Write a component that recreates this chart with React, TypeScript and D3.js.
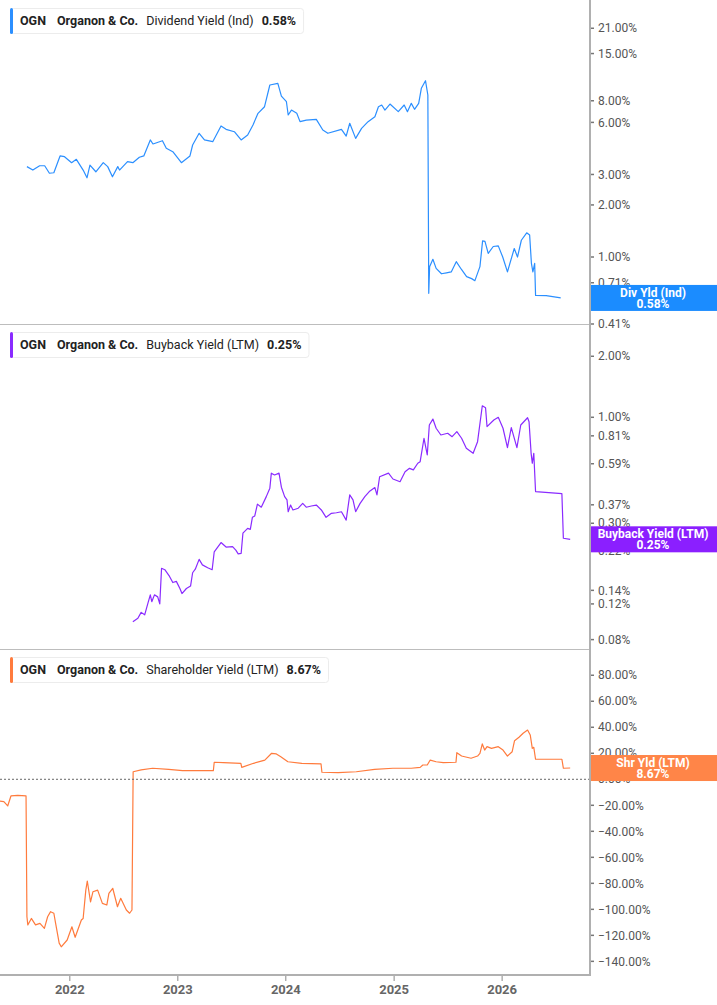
import React, { useEffect, useRef } from "react";
import * as d3 from "d3";

// Dividend Yield (Ind), %
const divDates = [
  "2021-08-09", "2021-08-29", "2021-09-21", "2021-10-08", "2021-10-24", "2021-11-08", "2021-11-29", "2021-12-14",
  "2022-01-07", "2022-01-23", "2022-02-15", "2022-02-28", "2022-03-10", "2022-03-30", "2022-04-24", "2022-05-09",
  "2022-05-25", "2022-06-12", "2022-06-18", "2022-07-15", "2022-08-02", "2022-08-24", "2022-09-08", "2022-09-30",
  "2022-10-09", "2022-11-10", "2022-11-23", "2022-12-15", "2023-01-13", "2023-02-11", "2023-02-20", "2023-03-14",
  "2023-04-01", "2023-04-29", "2023-05-27", "2023-06-13", "2023-07-11", "2023-08-03", "2023-08-25", "2023-09-12",
  "2023-09-29", "2023-10-21", "2023-11-08", "2023-12-05", "2023-12-17", "2024-01-03", "2024-01-09", "2024-01-20",
  "2024-02-07", "2024-02-18", "2024-03-10", "2024-04-13", "2024-05-05", "2024-05-22", "2024-07-07", "2024-07-23",
  "2024-08-04", "2024-08-24", "2024-09-13", "2024-10-05", "2024-10-28", "2024-11-09", "2024-11-20", "2024-12-01",
  "2024-12-18", "2025-01-15", "2025-02-04", "2025-02-15", "2025-02-28", "2025-03-11", "2025-03-25", "2025-04-03",
  "2025-04-17", "2025-04-25", "2025-04-28", "2025-05-01", "2025-05-12", "2025-05-23", "2025-06-10", "2025-06-27",
  "2025-07-13", "2025-07-30", "2025-08-16", "2025-09-03", "2025-09-20", "2025-10-01", "2025-10-18", "2025-10-27",
  "2025-11-04", "2025-11-15", "2025-12-02", "2025-12-19", "2026-01-03", "2026-01-19", "2026-02-11", "2026-02-22",
  "2026-03-07", "2026-03-25", "2026-04-04", "2026-04-10", "2026-04-15", "2026-04-21", "2026-04-24", "2026-05-30",
  "2026-07-18",
];
const divValues = [
  3.33, 3.18, 3.37, 3.37, 3.05, 3.07, 3.84, 3.8,
  3.51, 3.67, 3.18, 2.87, 3.4, 3.11, 3.51, 3.33,
  2.91, 3.33, 3.18, 3.56, 3.51, 3.77, 3.84, 4.75,
  4.5, 4.7, 4.25, 4.06, 3.51, 3.84, 4.44, 5.19,
  4.75, 4.64, 5.72, 5.47, 5.3, 4.75, 5.07, 5.8,
  6.77, 7.39, 9.87, 10.09, 8.52, 7.9, 6.62, 7.07,
  6.77, 6.06, 6.19, 6.25, 5.42, 5.19, 5.47, 5.0,
  5.93, 4.85, 5.54, 6.06, 6.47, 7.39, 7.56, 7.07,
  7.66, 6.92, 7.56, 6.92, 7.73, 7.14, 7.73, 9.44,
  10.45, 8.64, 0.617, 0.879, 0.97, 0.86, 0.8, 0.81,
  0.82, 0.94, 0.85, 0.77, 0.75, 0.73, 0.88, 1.24,
  1.23, 1.05, 1.15, 1.16, 1.0, 0.82, 1.12, 1.0,
  1.25, 1.38, 1.34, 0.92, 0.82, 0.92, 0.6, 0.598,
  0.58,
];

// Buyback Yield (LTM), %
const bbDates = [
  "2022-08-02", "2022-08-19", "2022-08-30", "2022-09-11", "2022-09-22", "2022-09-30", "2022-10-05", "2022-10-14",
  "2022-10-25", "2022-11-01", "2022-11-07", "2022-11-18", "2022-12-04", "2022-12-15", "2022-12-27", "2023-01-08",
  "2023-01-15", "2023-01-30", "2023-02-13", "2023-02-20", "2023-03-01", "2023-03-14", "2023-03-25", "2023-04-12",
  "2023-04-27", "2023-05-04", "2023-05-27", "2023-06-13", "2023-07-05", "2023-07-16", "2023-07-24", "2023-08-03",
  "2023-08-09", "2023-08-25", "2023-09-03", "2023-09-10", "2023-09-18", "2023-09-27", "2023-10-10", "2023-10-27",
  "2023-11-08", "2023-11-13", "2023-11-24", "2023-12-09", "2023-12-17", "2023-12-28", "2024-01-05", "2024-01-09",
  "2024-01-17", "2024-01-25", "2024-02-12", "2024-02-27", "2024-03-10", "2024-03-27", "2024-04-13", "2024-04-30",
  "2024-05-16", "2024-06-03", "2024-06-20", "2024-07-07", "2024-07-23", "2024-08-04", "2024-08-15", "2024-08-24",
  "2024-09-08", "2024-09-24", "2024-10-09", "2024-10-28", "2024-11-04", "2024-11-13", "2024-12-13", "2024-12-28",
  "2025-01-21", "2025-02-07", "2025-02-22", "2025-03-07", "2025-03-22", "2025-03-30", "2025-04-12", "2025-04-23",
  "2025-04-30", "2025-05-12", "2025-05-23", "2025-06-08", "2025-07-01", "2025-07-16", "2025-08-01", "2025-08-17",
  "2025-09-02", "2025-09-25", "2025-10-10", "2025-10-26", "2025-11-06", "2025-11-11", "2025-12-04", "2025-12-19",
  "2026-01-04", "2026-01-19", "2026-02-01", "2026-02-20", "2026-03-05", "2026-03-28", "2026-04-02", "2026-04-09",
  "2026-04-13", "2026-04-18", "2026-04-24", "2026-07-22", "2026-07-27", "2026-08-19",
];
const bbValues = [
  0.098, 0.102, 0.109, 0.106, 0.121, 0.133, 0.123, 0.133,
  0.13, 0.12, 0.18, 0.177, 0.164, 0.153, 0.155, 0.143,
  0.135, 0.143, 0.147, 0.171, 0.178, 0.199, 0.187, 0.181,
  0.177, 0.217, 0.241, 0.229, 0.23, 0.221, 0.212, 0.213,
  0.268, 0.283, 0.28, 0.321, 0.326, 0.373, 0.36, 0.406,
  0.447, 0.53, 0.519, 0.53, 0.452, 0.406, 0.391, 0.342,
  0.369, 0.349, 0.356, 0.376, 0.36, 0.365, 0.369, 0.349,
  0.321, 0.336, 0.338, 0.342, 0.311, 0.414, 0.391, 0.342,
  0.376, 0.406, 0.43, 0.45, 0.414, 0.509, 0.53, 0.496,
  0.481, 0.539, 0.56, 0.55, 0.593, 0.604, 0.788, 0.652,
  0.916, 0.98, 0.883, 0.818, 0.834, 0.802, 0.849, 0.788,
  0.703, 0.664, 0.758, 1.14, 1.115, 0.9, 0.97, 1.0,
  0.883, 0.708, 0.889, 0.708, 0.916, 0.995, 0.951, 0.664,
  0.593, 0.664, 0.43, 0.42, 0.253, 0.25,
];

// Shareholder Yield (LTM), %
const shrDates = [
  "2021-05-01", "2021-05-23", "2021-06-05", "2021-06-16", "2021-07-09", "2021-08-06", "2021-08-09", "2021-08-12",
  "2021-08-24", "2021-09-07", "2021-09-22", "2021-10-07", "2021-10-18", "2021-10-28", "2021-11-08", "2021-11-14",
  "2021-11-26", "2021-12-03", "2021-12-23", "2022-01-08", "2022-01-19", "2022-02-09", "2022-02-15", "2022-02-24",
  "2022-03-01", "2022-03-12", "2022-03-20", "2022-04-05", "2022-04-21", "2022-05-06", "2022-05-13", "2022-05-26",
  "2022-06-11", "2022-06-22", "2022-07-11", "2022-07-22", "2022-07-30", "2022-08-03", "2022-08-30", "2022-10-08",
  "2022-12-01", "2023-01-17", "2023-03-18", "2023-05-01", "2023-05-04", "2023-06-04", "2023-08-02", "2023-08-05",
  "2023-09-14", "2023-10-22", "2023-11-14", "2023-11-30", "2023-12-15", "2024-01-08", "2024-02-24", "2024-04-29",
  "2024-05-02", "2024-06-26", "2024-08-26", "2024-10-27", "2024-12-28", "2025-02-28", "2025-03-30", "2025-04-08",
  "2025-04-23", "2025-05-03", "2025-05-23", "2025-06-16", "2025-07-29", "2025-08-01", "2025-08-17", "2025-09-18",
  "2025-10-10", "2025-10-18", "2025-10-26", "2025-11-03", "2025-11-11", "2025-11-26", "2025-12-19", "2026-01-04",
  "2026-01-19", "2026-02-04", "2026-02-12", "2026-02-27", "2026-03-13", "2026-03-28", "2026-04-06", "2026-04-13",
  "2026-04-18", "2026-04-24", "2026-07-22", "2026-07-27", "2026-08-19",
];
const shrValues = [
  -16.5, -17.2, -20.5, -12.8, -12.3, -12.8, -105.7, -112,
  -107, -112, -110.8, -114.6, -105.7, -101.8, -103, -110.8,
  -126, -128.8, -123.6, -113.4, -121.5, -108.2, -107, -85.2,
  -78.2, -94.2, -86.5, -85.2, -95.4, -96.7, -87.7, -83.8,
  -98, -91.5, -100.5, -103, -100.5, 5.8, 7.2, 8.5,
  7.7, 6.6, 6.6, 6.6, 13.1, 12.8, 12.3, 9.2,
  12.3, 14.8, 20, 19.5, 17.4, 13.5, 12.3, 11.8,
  5.4, 5.1, 5.8, 7.7, 8.5, 8.5, 9.2, 11,
  11, 14.8, 13.5, 12.8, 13.1, 20.5, 17.9, 16.2,
  17.9, 20, 27.2, 22.5, 25.1, 23.8, 25.1, 22.5,
  17.9, 21.2, 29.7, 32.3, 35.4, 37.9, 34.1, 23.8,
  24.6, 15.4, 15.4, 8.5, 8.67,
];

const divTicks = [21, 15, 8, 6, 3, 2, 1, 0.71, 0.41];
const bbTicks = [2, 1, 0.81, 0.59, 0.37, 0.3, 0.22, 0.14, 0.12, 0.08];
const shrTicks = [80, 60, 40, 20, 0, -20, -40, -60, -80, -100, -120, -140];
const yearLabels = ["2022", "2023", "2024", "2025", "2026"];

const WIDTH = 717;
const HEIGHT = 1005;
const PLOT_RIGHT = 590;
const AXIS_Y = 975;
const FONT = "Roboto, 'Noto Sans', sans-serif";

const App: React.FC = () => {
  const ref = useRef<SVGSVGElement>(null);

  useEffect(() => {
    if (!ref.current) return;
    const svg = d3.select(ref.current).html("");
    const parse = d3.utcParse("%Y-%m-%d");

    const x = d3
      .scaleUtc()
      .domain([parse("2021-05-10")!, parse("2026-10-25")!])
      .range([0, PLOT_RIGHT]);

    const panels = [
      {
        id: "div",
        dates: divDates,
        values: divValues,
        color: "#2b8fff",
        badgeColor: "#1b8cff",
        y: d3.scaleLog().domain([0.41, 30.59]).range([324, 0]),
        ticks: divTicks,
        top: 0,
        bottom: 324,
        legend: ["Dividend Yield (Ind)", "0.58%"],
        badge: ["Div Yld (Ind)", "0.58%"],
      },
      {
        id: "bb",
        dates: bbDates,
        values: bbValues,
        color: "#8a2bff",
        badgeColor: "#8b1fff",
        y: d3.scaleLog().domain([0.0719, 2.886]).range([649, 324]),
        ticks: bbTicks,
        top: 324,
        bottom: 649,
        legend: ["Buyback Yield (LTM)", "0.25%"],
        badge: ["Buyback Yield (LTM)", "0.25%"],
      },
      {
        id: "shr",
        dates: shrDates,
        values: shrValues,
        color: "#ff7b3d",
        badgeColor: "#ff8548",
        y: d3.scaleLinear().domain([-150.5, 100.2]).range([975, 649]),
        ticks: shrTicks,
        top: 649,
        bottom: 975,
        legend: ["Shareholder Yield (LTM)", "8.67%"],
        badge: ["Shr Yld (LTM)", "8.67%"],
      },
    ];

    const fmt = d3.format(".2f");
    const defs = svg.append("defs");

    panels.forEach((p) => {
      defs
        .append("clipPath")
        .attr("id", `clip-${p.id}`)
        .append("rect")
        .attr("x", 0)
        .attr("y", p.top)
        .attr("width", PLOT_RIGHT)
        .attr("height", p.bottom - p.top);

      const pts = p.dates.map((d, i) => ({ date: parse(d)!, value: p.values[i] }));
      const line = d3
        .line<{ date: Date; value: number }>()
        .x((d) => x(d.date))
        .y((d) => (p.y as any)(d.value));

      svg
        .append("path")
        .datum(pts)
        .attr("clip-path", `url(#clip-${p.id})`)
        .attr("fill", "none")
        .attr("stroke", p.color)
        .attr("stroke-width", 1.2)
        .attr("stroke-linejoin", "round")
        .attr("d", line);
    });

    // zero line in shareholder panel
    const shrY = panels[2].y as d3.ScaleLinear<number, number>;
    svg
      .append("line")
      .attr("x1", 0)
      .attr("x2", PLOT_RIGHT)
      .attr("y1", shrY(0))
      .attr("y2", shrY(0))
      .attr("stroke", "#666")
      .attr("stroke-width", 1)
      .attr("stroke-dasharray", "2,2");

    // panel separators
    [324, 649].forEach((yy) => {
      svg
        .append("line")
        .attr("x1", 0)
        .attr("x2", PLOT_RIGHT)
        .attr("y1", yy + 0.5)
        .attr("y2", yy + 0.5)
        .attr("stroke", "#bdbdbd")
        .attr("stroke-width", 1);
    });

    // right axis line and bottom axis line
    svg
      .append("line")
      .attr("x1", PLOT_RIGHT)
      .attr("x2", PLOT_RIGHT)
      .attr("y1", 0)
      .attr("y2", AXIS_Y + 1)
      .attr("stroke", "#b0b0b0")
      .attr("stroke-width", 2);
    svg
      .append("line")
      .attr("x1", 0)
      .attr("x2", PLOT_RIGHT + 1)
      .attr("y1", AXIS_Y)
      .attr("y2", AXIS_Y)
      .attr("stroke", "#b0b0b0")
      .attr("stroke-width", 2);

    // y tick labels
    panels.forEach((p) => {
      const g = svg.append("g");
      p.ticks.forEach((t) => {
        const yy = (p.y as any)(t);
        g.append("line")
          .attr("x1", PLOT_RIGHT + 1)
          .attr("x2", PLOT_RIGHT + 4)
          .attr("y1", yy)
          .attr("y2", yy)
          .attr("stroke", "#777")
          .attr("stroke-width", 1.5);
        g.append("text")
          .attr("x", PLOT_RIGHT + 8)
          .attr("y", yy)
          .attr("dy", "0.35em")
          .attr("font-family", FONT)
          .attr("font-size", 12)
          .attr("fill", "#555")
          .text(`${fmt(t)}%`);
      });
    });

    // x axis
    yearLabels.forEach((yr) => {
      const xx = x(parse(`${yr}-01-01`)!);
      svg
        .append("line")
        .attr("x1", xx)
        .attr("x2", xx)
        .attr("y1", AXIS_Y + 1)
        .attr("y2", AXIS_Y + 6)
        .attr("stroke", "#888")
        .attr("stroke-width", 1);
      svg
        .append("text")
        .attr("x", xx)
        .attr("y", 989)
        .attr("dy", "0.35em")
        .attr("text-anchor", "middle")
        .attr("font-family", FONT)
        .attr("font-size", 13)
        .attr("font-weight", "bold")
        .attr("fill", "#666")
        .text(yr);
    });

    // last value badges
    panels.forEach((p) => {
      const last = p.values[p.values.length - 1];
      const cy = (p.y as any)(last);
      svg
        .append("rect")
        .attr("x", PLOT_RIGHT + 1)
        .attr("y", cy - 13)
        .attr("width", WIDTH - PLOT_RIGHT)
        .attr("height", 26)
        .attr("fill", p.badgeColor);
      p.badge.forEach((txt, i) => {
        svg
          .append("text")
          .attr("x", 653)
          .attr("y", cy - 5.5 + i * 11)
          .attr("dy", "0.35em")
          .attr("text-anchor", "middle")
          .attr("font-family", FONT)
          .attr("font-size", 12)
          .attr("font-weight", "bold")
          .attr("fill", "#fff")
          .text(txt);
      });
    });

    // legends
    panels.forEach((p) => {
      const g = svg.append("g").attr("transform", `translate(10,${p.top + 8})`);
      const box = g
        .append("rect")
        .attr("x", 0.5)
        .attr("y", 0.5)
        .attr("height", 25)
        .attr("rx", 3)
        .attr("fill", "#fff")
        .attr("stroke", "#ececec");
      g.append("rect").attr("x", 0).attr("y", 0).attr("width", 3).attr("height", 26).attr("rx", 1.5).attr("fill", p.color);

      const parts: [string, boolean, number][] = [
        ["OGN", true, 10],
        ["Organon & Co.", true, 11],
        [p.legend[0], false, 8],
        [p.legend[1], true, 8],
      ];
      let cx = 0;
      parts.forEach(([txt, bold, gap]) => {
        cx += gap;
        const t = g
          .append("text")
          .attr("x", cx)
          .attr("y", 13)
          .attr("dy", "0.35em")
          .attr("font-family", FONT)
          .attr("font-size", 12.5)
          .attr("font-weight", bold ? "bold" : "normal")
          .attr("fill", "#222")
          .text(txt);
        cx += (t.node() as SVGTextElement).getComputedTextLength();
      });
      box.attr("width", cx + 7);
    });
  }, []);

  return (
    <div style={{ position: "absolute", left: 0, top: 0 }}>
      <svg ref={ref} width={WIDTH} height={HEIGHT} style={{ display: "block", background: "#fff" }} />
    </div>
  );
};

export default App;
